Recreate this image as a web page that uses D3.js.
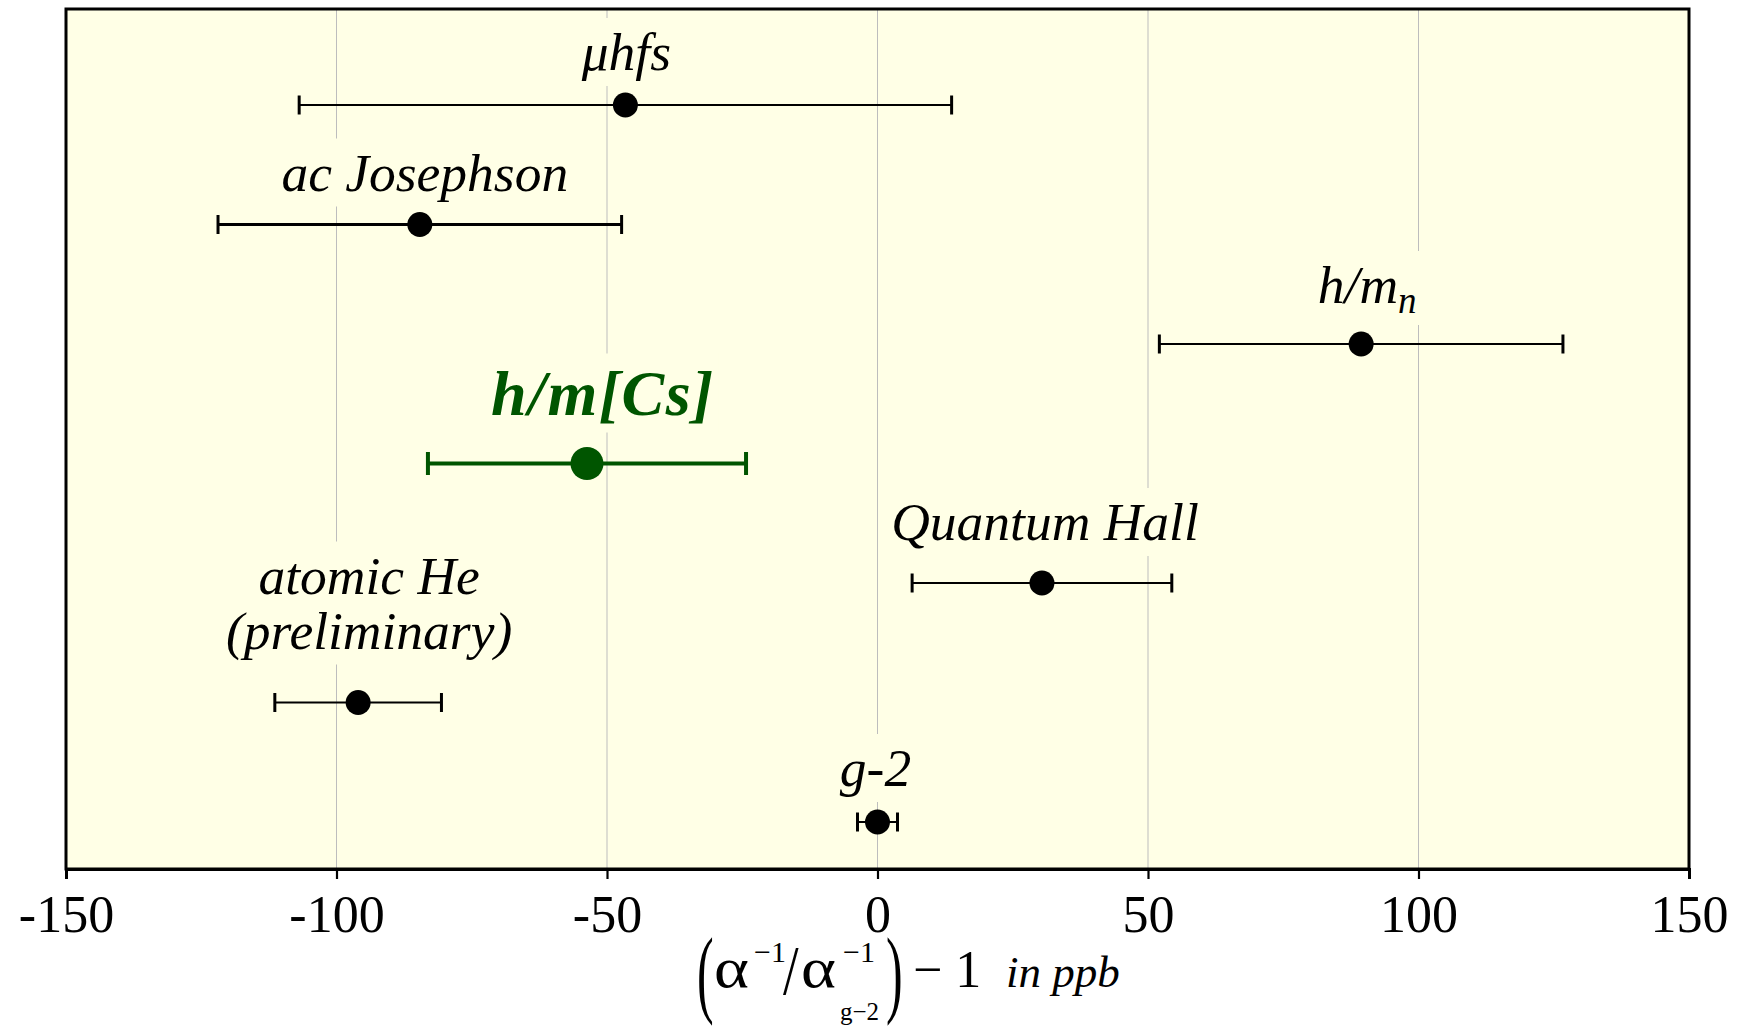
<!DOCTYPE html>
<html>
<head>
<meta charset="utf-8">
<script src="https://cdn.jsdelivr.net/npm/d3@7/dist/d3.min.js"></script>
<style>
  html, body { margin: 0; padding: 0; background: #ffffff; }
  svg { display: block; }
  text { font-family: "Liberation Serif", "DejaVu Serif", serif; }
</style>
</head>
<body>
<svg id="chart" width="1737" height="1031"></svg>
<script>
// Determinations of the fine-structure constant, relative to the g-2 value (ppb)
const categories = ["μhfs", "ac Josephson", "h/mn", "h/m[Cs]", "Quantum Hall", "atomic He", "g-2"];
const values = [-46.6, -84.6, 89.4, -53.7, 30.4, -96.0, 0.0];
const uncertainties = [60.3, 37.3, 37.3, 29.4, 24.0, 15.4, 3.7];
const highlighted = [false, false, false, true, false, false, false];
const xTicks = [-150, -100, -50, 0, 50, 100, 150];
const xDomain = [-150, 150];

const svg = d3.select("#chart");
const plot = { left: 66, right: 1689, top: 9, bottom: 869 };

const bg = "#ffffe6";
const green = "#005500";

const x = d3.scaleLinear().domain(xDomain).range([plot.left, plot.right]);
const y = d3.scalePoint().domain(categories).range([105, 822]);

const rows = categories.map((c, i) => ({
  name: c, value: values[i], err: uncertainties[i], hi: highlighted[i]
}));

// plot background
svg.append("rect")
  .attr("x", plot.left).attr("y", plot.top)
  .attr("width", plot.right - plot.left).attr("height", plot.bottom - plot.top)
  .attr("fill", bg);

// vertical grid lines
svg.append("g").selectAll("line")
  .data(xTicks.filter(d => d > xDomain[0] && d < xDomain[1]))
  .join("line")
  .attr("x1", d => x(d)).attr("x2", d => x(d))
  .attr("y1", plot.top).attr("y2", plot.bottom)
  .attr("stroke", "#bdbdbd").attr("stroke-width", 1);

// labels above each measurement, each on its own backdrop
const labelLayer = svg.append("g");
const labelStyle = {
  "μhfs":         { dx: 1,  dy: -35 },
  "ac Josephson": { dx: 5,  dy: -34 },
  "h/mn":         { dx: 6,  dy: -41 },
  "h/m[Cs]":      { dx: 16, dy: -49 },
  "Quantum Hall": { dx: 3,  dy: -43 },
  "atomic He":    { dx: 11, dy: -54 },
  "g-2":          { dx: -2, dy: -36 }
};

function styleLabel(t, r) {
  return t.attr("text-anchor", "middle")
    .attr("font-style", "italic")
    .attr("font-size", r.hi ? 64 : 53.5)
    .attr("letter-spacing", r.hi ? 1.5 : 0)
    .attr("font-weight", r.hi ? "bold" : "normal")
    .attr("fill", r.hi ? green : "#000");
}

rows.forEach(r => {
  const s = labelStyle[r.name];
  const g = labelLayer.append("g");
  const cx = x(r.value) + s.dx;
  const by = y(r.name) + s.dy;
  const texts = [];
  if (r.name === "atomic He") {
    texts.push(styleLabel(g.append("text"), r).attr("x", cx).attr("y", by - 55).text("atomic He"));
    texts.push(styleLabel(g.append("text"), r).attr("x", cx).attr("y", by).text("(preliminary)"));
  } else {
    const t = styleLabel(g.append("text"), r).attr("x", cx).attr("y", by);
    if (r.name === "h/mn") {
      t.append("tspan").text("h/m");
      t.append("tspan").attr("font-size", 37).attr("dy", 10).text("n");
    } else {
      t.text(r.name);
    }
    texts.push(t);
  }
  const pad = 4;
  texts.forEach(t => {
    const bb = t.node().getBBox();
    g.insert("rect", "text")
      .attr("x", bb.x - pad).attr("y", bb.y - pad)
      .attr("width", bb.width + 2 * pad).attr("height", bb.height + 2 * pad)
      .attr("fill", bg);
  });
});

// error bars
const bars = svg.append("g").selectAll("g").data(rows).join("g")
  .attr("stroke", d => d.hi ? green : "#000");
bars.append("line")
  .attr("x1", d => x(d.value - d.err)).attr("x2", d => x(d.value + d.err))
  .attr("y1", d => y(d.name)).attr("y2", d => y(d.name))
  .attr("stroke-width", d => d.hi ? 4 : (d.name === "ac Josephson" ? 3 : 2.2));
[-1, 1].forEach(side => {
  bars.append("line")
    .attr("x1", d => x(d.value + side * d.err)).attr("x2", d => x(d.value + side * d.err))
    .attr("y1", d => y(d.name) - (d.hi ? 11.5 : 9.5))
    .attr("y2", d => y(d.name) + (d.hi ? 11.5 : 9.5))
    .attr("stroke-width", d => d.hi ? 4 : 3);
});

// markers
svg.append("g").selectAll("circle").data(rows).join("circle")
  .attr("cx", d => x(d.value)).attr("cy", d => y(d.name))
  .attr("r", d => d.hi ? 16.5 : 12.5)
  .attr("fill", d => d.hi ? green : "#000");

// frame
svg.append("rect")
  .attr("x", plot.left).attr("y", plot.top)
  .attr("width", plot.right - plot.left).attr("height", plot.bottom - plot.top)
  .attr("fill", "none").attr("stroke", "#000").attr("stroke-width", 3);

// x axis
const axis = svg.append("g")
  .attr("transform", `translate(0,${plot.bottom})`)
  .call(d3.axisBottom(x).tickValues(xTicks).tickSize(10).tickFormat(d => String(d)));
axis.select(".domain").attr("stroke", "#000").attr("stroke-width", 3);
axis.selectAll(".tick line").attr("stroke", "#000").attr("stroke-width", 2.2);
axis.selectAll(".tick text")
  .attr("y", 63).attr("dy", 0)
  .attr("font-size", 52)
  .attr("font-family", "Liberation Serif")
  .attr("fill", "#000");

// axis title: (α⁻¹ / α⁻¹_g−2) − 1   in ppb
const title = svg.append("g").attr("fill", "#000");
title.append("text").attr("transform", "translate(697,1005) scale(1,1.95)")
  .attr("font-size", 50).text("(");
title.append("text").attr("transform", "translate(714,987) scale(1.15,1)")
  .attr("font-size", 58).text("α");
title.append("text").attr("x", 754).attr("y", 962)
  .attr("font-size", 30).text("−1");
title.append("text").attr("transform", "translate(783,994) scale(1,1.25)")
  .attr("font-size", 56).text("/");
title.append("text").attr("transform", "translate(801,987) scale(1.15,1)")
  .attr("font-size", 58).text("α");
title.append("text").attr("x", 843).attr("y", 962)
  .attr("font-size", 30).text("−1");
title.append("text").attr("x", 840).attr("y", 1020)
  .attr("font-size", 25).text("g−2");
title.append("text").attr("transform", "translate(886,1005) scale(1,1.95)")
  .attr("font-size", 50).text(")");
title.append("text").attr("x", 913).attr("y", 987)
  .attr("font-size", 52).text("− 1");
title.append("text").attr("x", 1006).attr("y", 987)
  .attr("font-size", 45).attr("font-style", "italic").text("in ppb");
</script>
</body>
</html>
